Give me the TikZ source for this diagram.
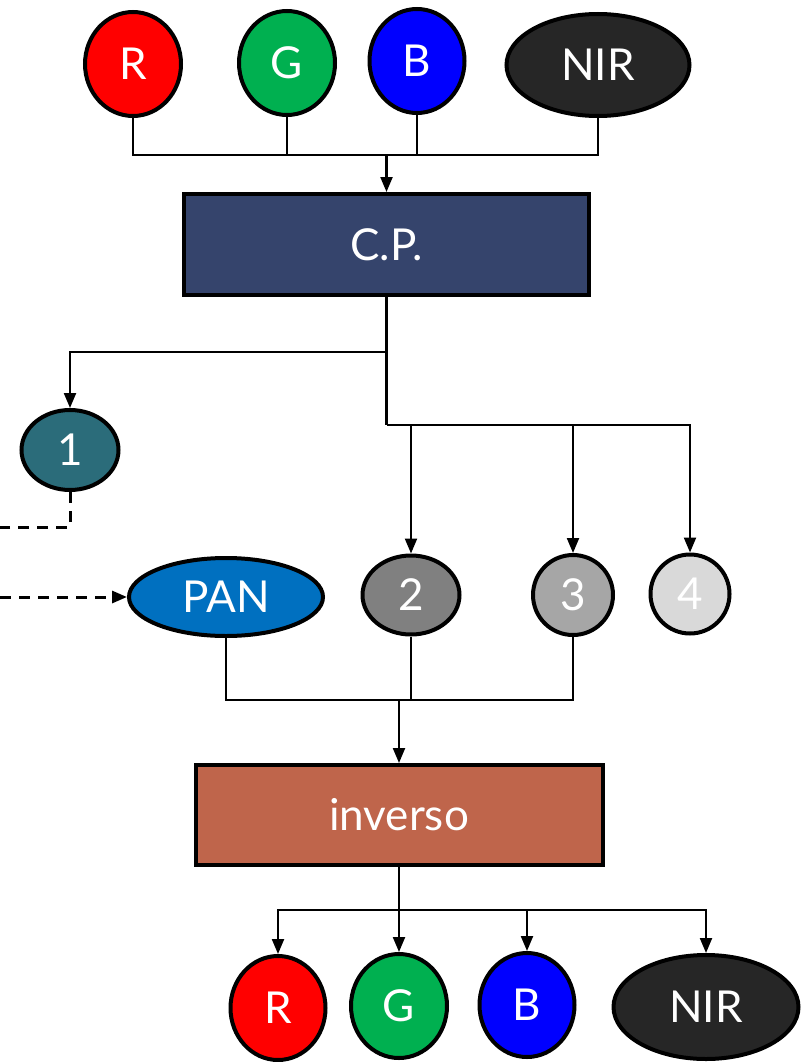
\documentclass[tikz,border=0pt]{standalone}
\usepackage{fontspec}
\setmainfont{Lato}
\usetikzlibrary{shapes.geometric,arrows.meta}
\definecolor{cR}{HTML}{FF0000}
\definecolor{cG}{HTML}{00B050}
\definecolor{cB}{HTML}{0000FF}
\definecolor{cNIR}{HTML}{262626}
\definecolor{cCP}{HTML}{35446C}
\definecolor{cInv}{HTML}{BF654B}
\definecolor{cPC1}{HTML}{2B6C7A}
\definecolor{cPAN}{HTML}{0070C0}
\definecolor{cPC2}{HTML}{808080}
\definecolor{cPC3}{HTML}{A6A6A6}
\definecolor{cPC4}{HTML}{D9D9D9}
\tikzset{
  band/.style={ellipse, draw=black, line width=4pt, inner sep=0pt,
    text=white, font=\fontsize{44}{48}\selectfont},
  procbox/.style={rectangle, draw=black, line width=4pt, inner sep=0pt,
    text=white, font=\fontsize{44}{48}\selectfont},
  link/.style={line width=2.2pt},
  tip/.style={-{Triangle[length=15pt,width=12pt]}},
  arr/.style={link, tip},
  dlink/.style={line width=3pt, dash pattern=on 11pt off 8pt},
}
\begin{document}
\begin{tikzpicture}[x=1pt, y=-1pt]
\useasboundingbox (0,0) rectangle (807,1062);

% input bands
\node[band, fill=cR,   minimum width=96pt,  minimum height=104pt] (iR)   at (133,64) {R};
\node[band, fill=cG,   minimum width=96pt,  minimum height=104pt] (iG)   at (287,63) {G};
\node[band, fill=cB,   minimum width=95pt,  minimum height=104pt] (iB)   at (417,61) {B};
\node[band, fill=cNIR, minimum width=183pt, minimum height=102pt] (iNIR) at (598,65) {NIR};

% principal components transform
\node[procbox, fill=cCP, minimum width=405pt, minimum height=101pt] (cp) at (386.5,244.5) {C.P.};

% components and panchromatic band
\node[band, fill=cPC1, minimum width=97pt,  minimum height=80pt] (pc1) at (70,450) {1};
\node[band, fill=cPAN, minimum width=194pt, minimum height=78pt] (pan) at (226,597) {PAN};
\node[band, fill=cPC2, minimum width=97pt,  minimum height=79pt] (pc2) at (411,595) {2};
\node[band, fill=cPC3, minimum width=80pt,  minimum height=80pt] (pc3) at (573,595) {3};
\node[band, fill=cPC4, minimum width=79pt,  minimum height=79pt] (pc4) at (690,594) {4};

% inverse transform
\node[procbox, fill=cInv, minimum width=407pt, minimum height=100pt] (inv) at (399,815) {inverso};

% output bands
\node[band, fill=cR,   minimum width=95pt,  minimum height=104pt] (oR)   at (278,1008) {R};
\node[band, fill=cG,   minimum width=96pt,  minimum height=104pt] (oG)   at (399,1006) {G};
\node[band, fill=cB,   minimum width=95pt,  minimum height=104pt] (oB)   at (527,1005) {B};
\node[band, fill=cNIR, minimum width=185pt, minimum height=104pt] (oNIR) at (706,1007) {NIR};

% junction points
\coordinate (jin)  at (386.5,155);
\coordinate (jpc1) at (386.5,352);
\coordinate (jpcs) at (386.5,425);
\coordinate (jinv) at (399,700);
\coordinate (jout) at (399,910);
\coordinate (dA)   at (0,527);
\coordinate (dB)   at (0,597);

% inputs to C.P.
\draw[link] (iR.south) |- (jin) -| (iNIR.south);
\draw[link] (iG.south) -- (iG.south |- jin);
\draw[link] (iB.south) -- (iB.south |- jin);
\draw[arr] (jin) -- (cp.north);

% C.P. to components
\draw[link] (cp.south) -- (jpcs);
\draw[arr] (jpc1) -| (pc1.north);
\draw[arr] (jpcs) -| (pc4.north);
\draw[arr] (jpcs -| pc2.north) -- (pc2.north);
\draw[arr] (jpcs -| pc3.north) -- (pc3.north);

% component 1 replaced by PAN
\draw[dlink] (pc1.south) |- (dA);
\draw[dlink, tip] (dB) -- (pan.west);

% to inverse transform
\draw[link] (pan.south) |- (jinv) -| (pc3.south);
\draw[link] (pc2.south) -- (pc2.south |- jinv);
\draw[arr] (jinv) -- (inv.north);

% inverse transform to outputs
\draw[link] (inv.south) -- (jout);
\draw[arr] (jout) -| (oR.north);
\draw[arr] (jout) -| (oNIR.north);
\draw[arr] (jout -| oG.north) -- (oG.north);
\draw[arr] (jout -| oB.north) -- (oB.north);
\end{tikzpicture}
\end{document}
